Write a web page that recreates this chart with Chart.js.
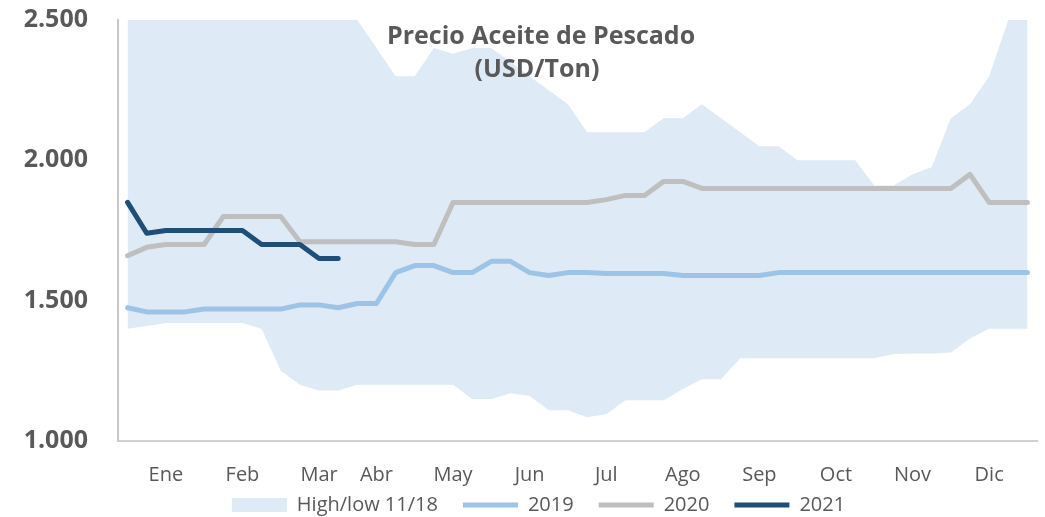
<!DOCTYPE html>
<html>
<head>
<meta charset="utf-8">
<script src="https://cdn.jsdelivr.net/npm/chart.js@4.4.1/dist/chart.umd.min.js"></script>
<style>
  body { margin: 0; background: #fff; }
  #wrap { position: relative; width: 1045px; height: 517px; }
  #titulo {
    position: absolute; left: 387px; width: 300px; top: 18px;
    text-align: center; font: bold 25px/33px "Open Sans", sans-serif; color: #595959;
    white-space: nowrap;
  }
</style>
</head>
<body>
<div id="wrap">
  <canvas id="myChart"></canvas>
  <div id="titulo">Precio Aceite de Pescado<br>(USD/Ton)</div>
</div>
<script>
// semanas del año (4 por mes), etiqueta del mes en su semana
const semanas = ['', '', 'Ene', '', '', '', 'Feb', '', '', '', 'Mar', '', '', 'Abr', '', '', '', 'May', '', '', '', 'Jun', '', '',
                 '', 'Jul', '', '', '', 'Ago', '', '', '', 'Sep', '', '', '', 'Oct', '', '', '', 'Nov', '', '', '', 'Dic', '', ''];

// rango high/low 2011-2018
const high = [2500,2500,2500,2500,2500,2500,2500,2500,2500,2500,2500,2500,2500,
              2400,2300,2300,2400,2380,2400,2400,
              2350,2300,2250,2200,2100,2100,2100,2100,2150,2150,
              2200,2150,2100,2050,2050,2000,2000,2000,2000,1910,
              1910,1950,1975,2150,2200,2300,2500,2500];
const low = [1400,1410,1420,1420,1420,1420,1420,1400,1250,1200,
             1180,1180,1200,1200,1200,1200,1200,1200,1150,1150,
             1170,1160,1110,1110,1085,1095,1145,1145,1145,1185,
             1220,1220,1295,1295,1295,1295,1295,1295,1295,1295,
             1310,1312,1312,1315,1365,1400,1400,1400];

const y2019 = [1475,1460,1460,1460,1470,1470,1470,1470,1470,1485,
               1485,1475,1490,1490,1600,1625,1625,1600,1600,1640,
               1640,1600,1590,1600,1600,1597,1597,1597,1597,1590,
               1590,1590,1590,1590,1600,1600,1600,1600,1600,1600,
               1600,1600,1600,1600,1600,1600,1600,1600];
const y2020 = [1660,1690,1700,1700,1700,1800,1800,1800,1800,1710,
               1710,1710,1710,1710,1710,1700,1700,1850,1850,1850,
               1850,1850,1850,1850,1850,1860,1875,1875,1925,1925,
               1900,1900,1900,1900,1900,1900,1900,1900,1900,1900,
               1900,1900,1900,1900,1950,1850,1850,1850];
const y2021 = [1850,1740,1750,1750,1750,1750,1750,1700,1700,1700,1650,1650];

const yTicks = [1000, 1500, 2000, 2500];

const gris = '#595959';

function linea(label, data, color, orden) {
    return {
        label: label, data: data, borderColor: color, backgroundColor: color,
        borderWidth: 5, pointRadius: 0, pointStyle: 'line', tension: 0,
        borderCapStyle: 'round', borderJoinStyle: 'round', fill: false, order: orden
    };
}

// la leyenda va un poco mas arriba y centrada como en el original
const moverLeyenda = {
    id: 'moverLeyenda',
    afterLayout(chart) {
        const lg = chart.legend;
        lg.top -= 21; lg.bottom -= 21;
        lg.left += 20; lg.right += 20;
    }
};

const ctx = document.getElementById('myChart');

new Chart(ctx, {
    type: 'line',
    data: {
        labels: semanas,
        datasets: [
            { label: 'High/low 11/18', data: high, backgroundColor: '#DEEAF6', borderWidth: 0,
              pointRadius: 0, pointStyle: 'rect', fill: '+1', order: 4 },
            { label: 'low', data: low, backgroundColor: '#DEEAF6', borderWidth: 0,
              pointRadius: 0, fill: false, order: 4 },
            linea('2019', y2019, '#9DC3E6', 3),
            linea('2020', y2020, '#BFBFBF', 2),
            linea('2021', y2021, '#1F4E79', 1)
        ]
    },
    options: {
        responsive: true,
        maintainAspectRatio: false,
        animation: false,
        layout: { padding: { left: 0, right: 8, top: 20, bottom: -29 } },
        scales: {
            x: {
                offset: true,
                grid: { display: false, drawTicks: false },
                border: { display: true, color: '#D0D0D0', width: 2 },
                ticks: {
                    autoSkip: false, maxRotation: 0, minRotation: 0, padding: 22,
                    color: gris, font: { family: 'Open Sans', size: 20 }
                },
                afterFit: function (scale) {
                    scale.height = 50;
                    scale.paddingLeft = 0; scale.paddingRight = 0;
                }
            },
            y: {
                min: 1000, max: 2500,
                afterBuildTicks: function (scale) { scale.ticks = yTicks.map(v => ({ value: v })); },
                grid: { display: false, drawTicks: false },
                border: { display: true, color: '#C8C8C8', width: 2 },
                ticks: {
                    padding: 30, color: gris, font: { family: 'Open Sans', size: 25, weight: 'bold' },
                    callback: v => String(v).replace(/\B(?=(\d{3})+(?!\d))/g, '.')
                },
                afterFit: function (scale) {
                    scale.width = 118;
                    scale.paddingTop = 0; scale.paddingBottom = 0;
                }
            }
        },
        plugins: {
            filler: { drawTime: 'beforeDatasetsDraw' },
            tooltip: { enabled: false },
            title: { display: false },
            legend: {
                position: 'bottom',
                labels: {
                    usePointStyle: true, pointStyleWidth: 55, boxHeight: 14, padding: 25,
                    color: gris, font: { family: 'Open Sans', size: 20 },
                    filter: item => item.text !== 'low',
                    sort: (a, b) => a.datasetIndex - b.datasetIndex
                }
            }
        }
    },
    plugins: [moverLeyenda]
});
</script>
</body>
</html>
